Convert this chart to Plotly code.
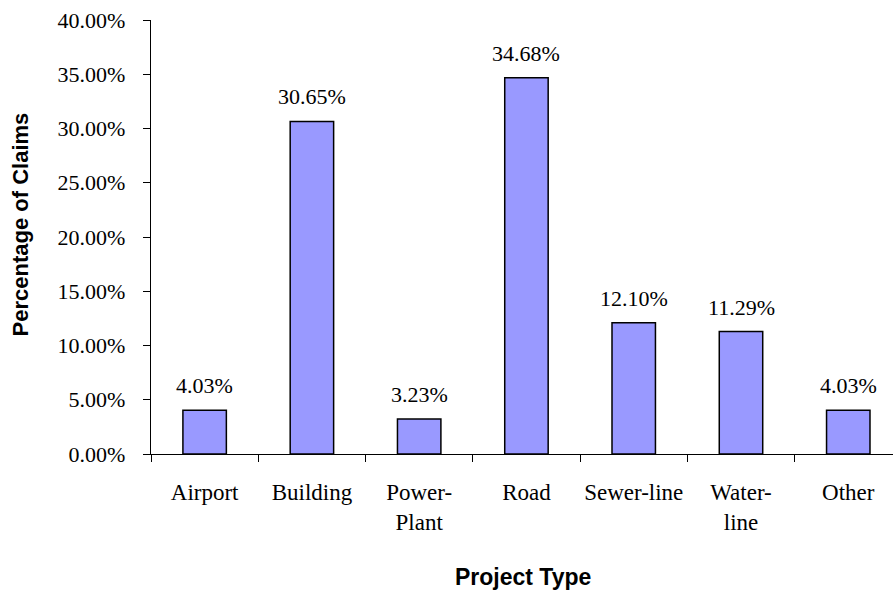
import plotly.graph_objects as go

categories = ["Airport", "Building", "Power-<br>Plant", "Road", "Sewer-line", "Water-<br>line", "Other"]
claims_pct = [4.03, 30.65, 3.23, 34.68, 12.10, 11.29, 4.03]
y_ticks = [0, 5, 10, 15, 20, 25, 30, 35, 40]
y_tick_labels = [f"{v:.2f}%" for v in y_ticks]

serif = "Liberation Serif, Times New Roman, serif"
sans = "Liberation Sans, Arial, sans-serif"

fig = go.Figure(
    go.Bar(
        x=categories,
        y=claims_pct,
        width=0.405,
        marker=dict(color="#9999FF", line=dict(color="black", width=1.5)),
        hoverinfo="skip",
    )
)

# value labels above each bar
for cat, val in zip(categories, claims_pct):
    fig.add_annotation(
        x=cat, y=val, text=f"{val:.2f}%", showarrow=False,
        yanchor="bottom", yshift=10,
        font=dict(family=serif, size=22, color="black"),
    )

fig.add_annotation(
    text="<b>Percentage of Claims</b>", textangle=-90, showarrow=False,
    xref="paper", yref="paper", x=(22 - 151.5) / 741.5, y=(454 - 224) / 434,
    xanchor="center", yanchor="middle",
    font=dict(family=sans, size=22, color="black"),
)
fig.add_annotation(
    text="<b>Project Type</b>", showarrow=False,
    xref="paper", yref="paper", x=(523 - 151.5) / 741.5, y=(454 - 577) / 434,
    xanchor="center", yanchor="middle",
    font=dict(family=sans, size=23, color="black"),
)

fig.update_layout(
    width=893, height=590,
    margin=dict(l=151, r=0, t=20, b=136, autoexpand=False),
    paper_bgcolor="white", plot_bgcolor="white",
    showlegend=False,
    bargap=0.6,
)
fig.update_xaxes(
    type="category",
    range=[-0.5, 6.417],
    showline=True, linecolor="black", linewidth=1.3,
    ticks="outside", tickson="boundaries", ticklen=7, tickcolor="black", tickwidth=1.3,
    tickangle=0,
    ticklabelstandoff=17,
    showgrid=False,
    tickfont=dict(family=serif, size=23, color="black"),
)
fig.update_yaxes(
    range=[0, 40],
    tickvals=y_ticks,
    ticktext=y_tick_labels,
    showline=True, linecolor="black", linewidth=1.3,
    ticks="outside", ticklen=7, tickcolor="black", tickwidth=1.3,
    ticklabelstandoff=13,
    showgrid=False, zeroline=False,
    tickfont=dict(family=serif, size=22, color="black"),
)

fig.write_html("out.html")
